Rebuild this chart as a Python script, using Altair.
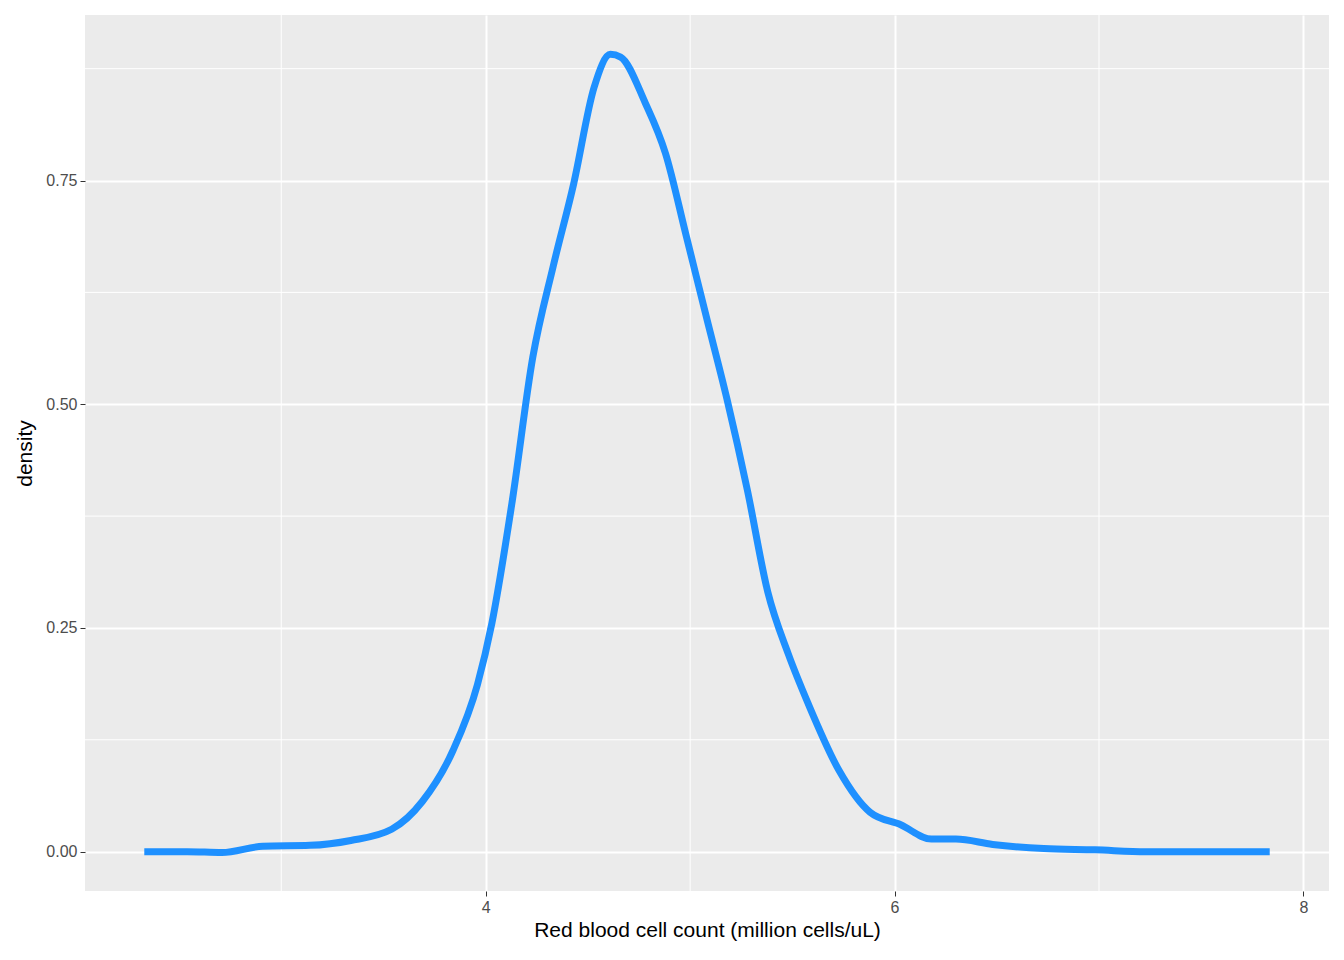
import altair as alt
import pandas as pd

rbc = [2.33, 2.54, 2.71, 2.91, 3.14, 3.34, 3.54, 3.69, 3.84, 3.96, 4.03, 4.13, 4.23,
       4.33, 4.43, 4.53, 4.61, 4.66, 4.78, 4.88, 4.98, 5.08, 5.18, 5.28, 5.38, 5.48,
       5.58, 5.73, 5.88, 6.03, 6.18, 6.30, 6.48, 6.73, 6.98, 7.23, 7.835]
density = [0.0, 0.0, -0.001, 0.006, 0.007, 0.0125, 0.025, 0.056, 0.113, 0.187, 0.255,
           0.392, 0.552, 0.654, 0.746, 0.854, 0.891, 0.888, 0.837, 0.78, 0.689, 0.597,
           0.506, 0.404, 0.29, 0.221, 0.164, 0.09, 0.044, 0.03, 0.014, 0.014, 0.008,
           0.0034, 0.002, 0.0, 0.0]

x_major = [4, 6, 8]
x_minor = [3, 5, 7]
y_major = [0, 0.25, 0.5, 0.75]
y_minor = [0.125, 0.375, 0.625, 0.875]

xs = alt.Scale(domain=[2.04, 8.125], nice=False, zero=False)
ys = alt.Scale(domain=[-0.044, 0.935], nice=False, zero=False)

df = pd.DataFrame({"rbc": rbc, "density": density})

vminor = alt.Chart(pd.DataFrame({"v": x_minor})).mark_rule(color="white", strokeWidth=1).encode(
    x=alt.X("v:Q", scale=xs))
hminor = alt.Chart(pd.DataFrame({"v": y_minor})).mark_rule(color="white", strokeWidth=1).encode(
    y=alt.Y("v:Q", scale=ys))

line = alt.Chart(df).mark_line(color="#1E90FF", strokeWidth=7, interpolate="monotone").encode(
    x=alt.X("rbc:Q", scale=xs, title="Red blood cell count (million cells/uL)",
            axis=alt.Axis(values=x_major, format="d", gridColor="white", gridWidth=2)),
    y=alt.Y("density:Q", scale=ys, title="density",
            axis=alt.Axis(values=y_major, format=".2f", gridColor="white", gridWidth=2)),
)

chart = (
    alt.layer(vminor, hminor, line)
    .properties(width=1328, height=944,
                autosize=alt.AutoSizeParams(type="fit", contains="padding"),
                padding={"left": 6, "top": 6, "right": 6, "bottom": 12})
    .configure_view(fill="#EBEBEB", stroke=None)
    .configure_axis(
        domain=False, tickColor="#333333", tickSize=5, labelColor="#4D4D4D",
        labelFontSize=16, labelFont="Liberation Sans", titleFont="Liberation Sans",
        titleFontSize=21, titleFontWeight="normal", titleColor="black", labelPadding=3,
    )
    .configure_axisY(titlePadding=10)
    .configure_axisX(titlePadding=4)
)

chart.save("out.html", embed_options={"renderer": "svg", "actions": False})
